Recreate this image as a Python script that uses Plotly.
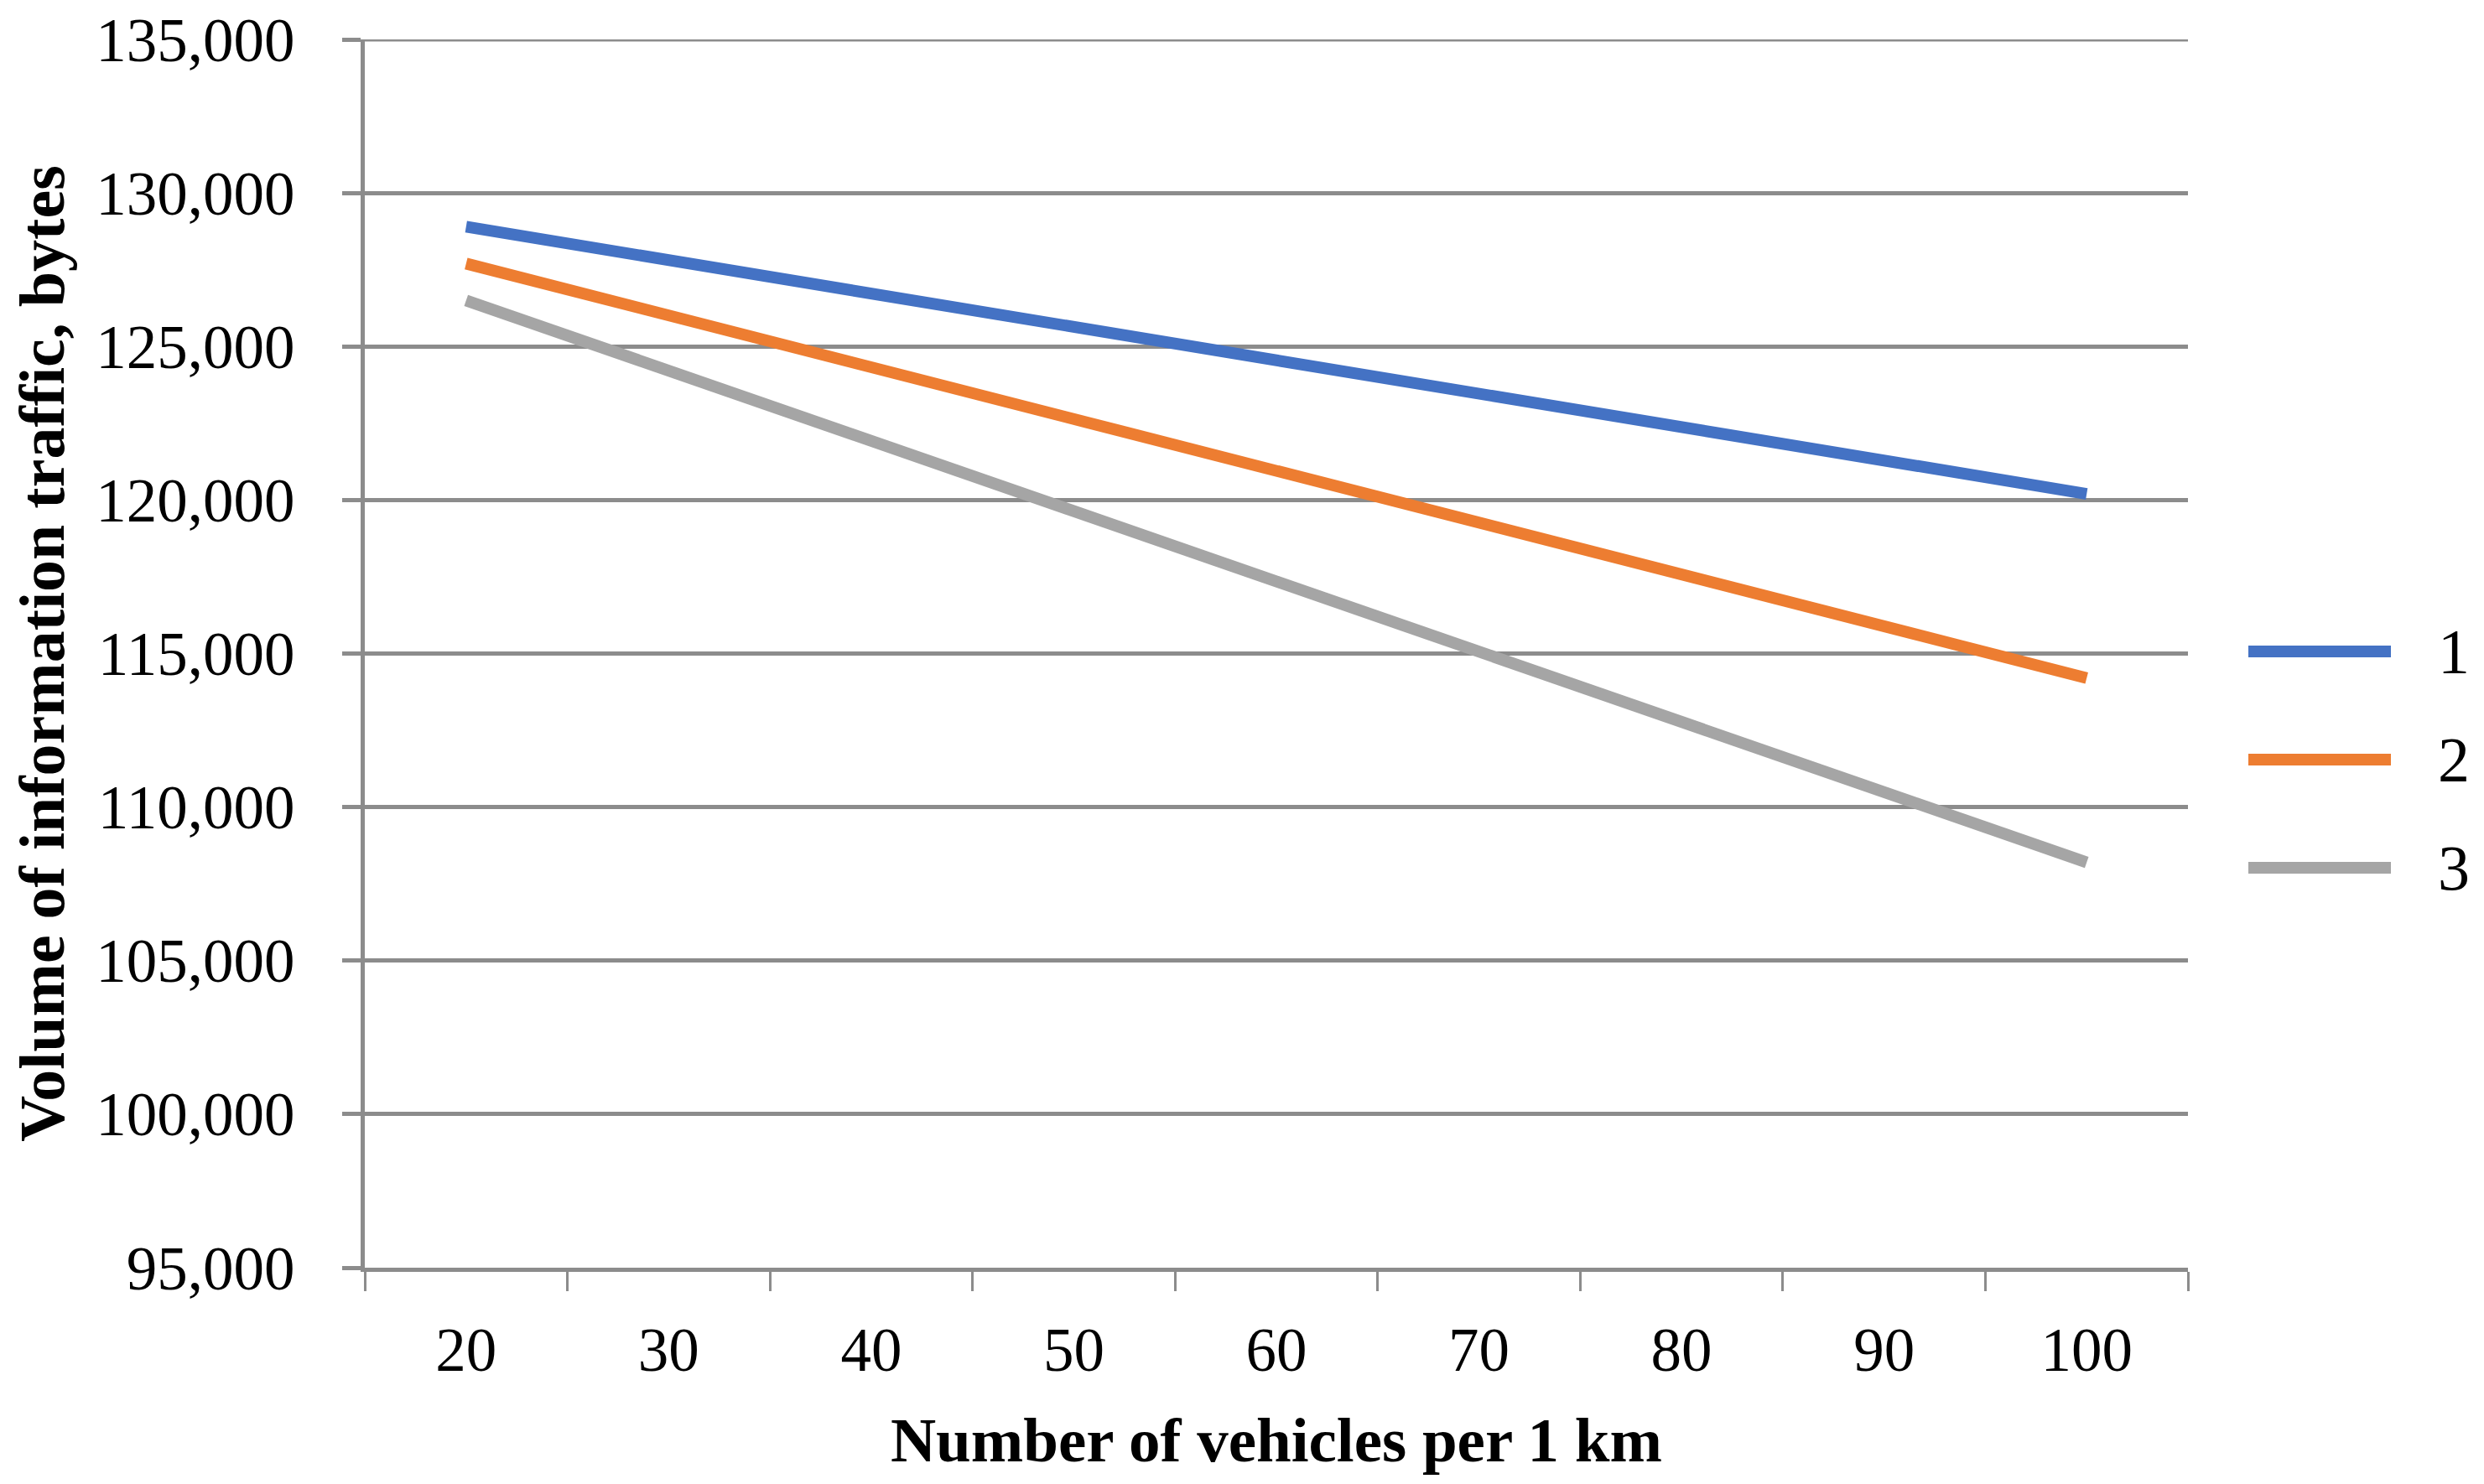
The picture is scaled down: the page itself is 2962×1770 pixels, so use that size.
import plotly.graph_objects as go

vehicles = ["20", "30", "40", "50", "60", "70", "80", "90", "100"]
series_1 = [128900, 127810, 126720, 125640, 124550, 123460, 122380, 121290, 120200]
series_2 = [127700, 126010, 124330, 122640, 120950, 119260, 117580, 115890, 114200]
series_3 = [126500, 124210, 121930, 119640, 117350, 115060, 112780, 110490, 108200]
names = ["1", "2", "3"]
colors = ["#4472C4", "#ED7D31", "#A5A5A5"]
y_ticks = [95000, 100000, 105000, 110000, 115000, 120000, 125000, 130000, 135000]

# Page has an 8px body margin: work in page pixels and convert
OFF = 8
W, H = 2962 - 2 * OFF, 1770 - 2 * OFF
L, R, T, B = 435 - OFF, 2609 - OFF, 47 - OFF, 1512 - OFF
FONT = "Liberation Serif"
GRID = "#8C8C8C"

fig = go.Figure()
for name, vals, col in zip(names, [series_1, series_2, series_3], colors):
    fig.add_trace(go.Scatter(x=vehicles, y=vals, mode="lines", name=name,
                             line=dict(color=col, width=14), showlegend=False))

fig.update_layout(
    width=W, height=H,
    margin=dict(l=L, r=W - R, t=T, b=H - B, autoexpand=False),
    paper_bgcolor="white", plot_bgcolor="white",
    font=dict(family=FONT, color="black", size=72),
)
fig.update_xaxes(
    type="category", range=[-0.5, 8.5], tickson="boundaries",
    showgrid=False, showline=True, linecolor=GRID, linewidth=5,
    ticks="outside", ticklen=23, tickwidth=3, tickcolor=GRID,
    tickfont=dict(size=73, family=FONT), ticklabelstandoff=30,
    title=dict(text="<b>Number of vehicles per 1 km</b>", font=dict(size=75, family=FONT), standoff=42),
    automargin=False, ticklabeloverflow="allow",
)
fig.update_yaxes(
    range=[95000, 135000], tickvals=y_ticks, tickformat=",",
    showgrid=True, gridcolor=GRID, gridwidth=5, zeroline=False,
    showline=True, linecolor=GRID, linewidth=5,
    ticks="outside", ticklen=22, tickwidth=5, tickcolor=GRID,
    tickfont=dict(size=73, family=FONT), ticklabelstandoff=42,
    title=dict(text="<b>Volume of information traffic, bytes</b>", font=dict(size=76, family=FONT), standoff=30),
    automargin=False, ticklabeloverflow="allow",
)

# Top gridline (plotly omits the grid line at the range end)
fig.add_shape(type="line", xref="paper", yref="y", x0=0, x1=1,
              y0=y_ticks[-1], y1=y_ticks[-1], layer="below",
              line=dict(color=GRID, width=5))

# Legend drawn to match the long legend swatches of the reference
leg_x0, leg_x1, leg_tx = 2681 - OFF, 2851 - OFF, 2905 - OFF
leg_y = [777 - OFF, 906 - OFF, 1035 - OFF]
def px(x):
    return (x - L) / (R - L)
def py(y):
    return (B - y) / (B - T)
for name, col, y in zip(names, colors, leg_y):
    fig.add_shape(type="line", xref="paper", yref="paper",
                  x0=px(leg_x0), x1=px(leg_x1), y0=py(y), y1=py(y),
                  line=dict(color=col, width=14))
    fig.add_annotation(xref="paper", yref="paper", x=px(leg_tx), y=py(y),
                       text=name, showarrow=False, xanchor="left", yanchor="middle",
                       font=dict(size=76, family=FONT, color="black"))

fig.write_html("out.html")
